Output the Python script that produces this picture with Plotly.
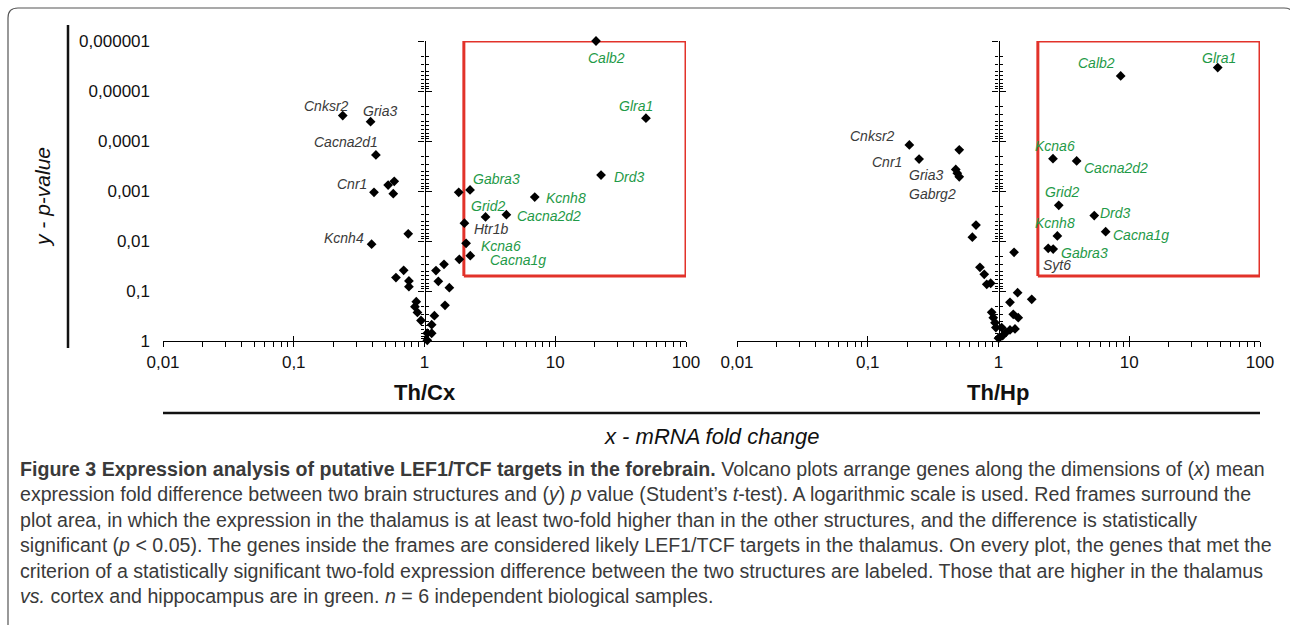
import numpy as np
import plotly.graph_objects as go

# ---------------- data: thalamus vs cortex ----------------
cx_genes = ["Cnksr2", "Gria3", "Cacna2d1", "Cnr1", "", "", "", "Kcnh4", "", "", "", "", "",
            "", "", "", "", "", "", "", "", "", "", "", "", "", "", "", "",
            "Gabra3", "Htr1b", "Kcna6", "Cacna1g", "Grid2", "Cacna2d2", "Kcnh8", "Drd3", "Glra1", "Calb2"]
cx_fold = [0.237, 0.387, 0.425, 0.411, 0.527, 0.587, 0.577, 0.394, 0.751, 0.605, 0.693, 0.760, 0.760,
           0.865, 0.845, 0.883, 0.940, 1.05, 1.05, 1.135, 1.135, 1.19, 1.435, 1.549, 1.276, 1.224, 1.41, 1.846, 1.827,
           2.23, 2.02, 2.08, 2.24, 2.93, 4.23, 6.97, 22.4, 49.4, 20.5]
cx_p = [3.1e-5, 4.1e-5, 1.9e-4, 1.06e-3, 7.6e-4, 6.4e-4, 1.13e-3, 0.0116, 0.0072, 0.054, 0.0386, 0.063, 0.082,
        0.164, 0.206, 0.269, 0.389, 0.97, 0.70, 0.70, 0.472, 0.312, 0.193, 0.086, 0.064, 0.039, 0.0292, 0.0232, 1.06e-3,
        9.5e-4, 4.4e-3, 0.0111, 0.0197, 3.3e-3, 2.98e-3, 1.32e-3, 4.8e-4, 3.5e-5, 1.0e-6]
cx_green = ["Gabra3", "Kcna6", "Cacna1g", "Grid2", "Cacna2d2", "Kcnh8", "Drd3", "Glra1", "Calb2"]

# ---------------- data: thalamus vs hippocampus ----------------
hp_genes = ["Cnksr2", "Cnr1", "", "Gria3", "", "Gabrg2", "", "", "", "", "", "", "", "", "", "", "",
            "", "", "", "", "", "", "", "", "", "", "", "",
            "Kcna6", "Cacna2d2", "Calb2", "Glra1", "Grid2", "Drd3", "Kcnh8", "Cacna1g", "Gabra3", "Syt6"]
hp_fold = [0.208, 0.247, 0.501, 0.471, 0.484, 0.501, 0.673, 0.631, 0.721, 0.778, 0.813, 0.871, 0.887, 0.912, 0.94,
           0.955, 1.057, 1.014, 1.077, 1.141, 1.224, 1.337, 1.0, 1.315, 1.224, 1.297, 1.40, 1.795, 1.416,
           2.61, 3.96, 8.6, 47.5, 2.89, 5.4, 2.82, 6.6, 2.62, 2.40]
hp_p = [1.2e-4, 2.3e-4, 1.5e-4, 3.7e-4, 4.4e-4, 5.2e-4, 4.8e-3, 8.4e-3, 0.0336, 0.0464, 0.0734, 0.070, 0.267, 0.342,
        0.43, 0.54, 0.54, 0.86, 0.78, 0.67, 0.60, 0.575, 0.88, 0.0168, 0.168, 0.292, 0.108, 0.147, 0.342,
        2.26e-4, 2.5e-4, 5.0e-6, 3.4e-6, 1.93e-3, 3.1e-3, 7.9e-3, 6.5e-3, 0.0145, 0.014]
hp_green = ["Kcna6", "Cacna2d2", "Calb2", "Glra1", "Grid2", "Drd3", "Kcnh8", "Cacna1g", "Gabra3"]

y_tick_values = [1e-6, 1e-5, 1e-4, 1e-3, 1e-2, 1e-1, 1]
y_tick_text = ["0,000001", "0,00001", "0,0001", "0,001", "0,01", "0,1", "1"]

# significance frame: at least two-fold higher in thalamus, p < 0.05
FOLD_CUTOFF = 2
P_CUTOFF = 0.05
FOLD_MAX = 100
P_MIN = 1e-6

caption_lines = [
    "<b>Figure 3 Expression analysis of putative LEF1/TCF targets in the forebrain.</b> Volcano plots arrange genes along the dimensions of (<i>x</i>) mean",
    "expression fold difference between two brain structures and (<i>y</i>) <i>p</i> value (Student\u2019s <i>t</i>-test). A logarithmic scale is used. Red frames surround the",
    "plot area, in which the expression in the thalamus is at least two-fold higher than in the other structures, and the difference is statistically",
    "significant (<i>p</i> &lt; 0.05). The genes inside the frames are considered likely LEF1/TCF targets in the thalamus. On every plot, the genes that met the",
    "criterion of a statistically significant two-fold expression difference between the two structures are labeled. Those that are higher in the thalamus",
    "<i>vs.</i> cortex and hippocampus are in green. <i>n</i> = 6 independent biological samples.",
]

# label placement: (xanchor, dx px, dy px downward)
cx_label_pos = {
    "Cnksr2": ("center", -16, -10), "Gria3": ("center", 9, -11), "Cacna2d1": ("center", -30, -13),
    "Cnr1": ("right", -5, -8), "Kcnh4": ("right", -6, -6), "Calb2": ("center", 10, 17),
    "Glra1": ("center", -10, -12), "Drd3": ("left", 11, 2), "Gabra3": ("left", 1, -11),
    "Kcnh8": ("left", 9, 1), "Grid2": ("left", -17, -11), "Cacna2d2": ("left", 9, 1),
    "Htr1b": ("left", 8, 6), "Kcna6": ("left", 13, 3), "Cacna1g": ("left", 18, 4),
}
hp_label_pos = {
    "Cnksr2": ("right", -12, -9), "Cnr1": ("right", -15, 3), "Gria3": ("right", -11, 6),
    "Gabrg2": ("right", -1, 17), "Calb2": ("right", -4, -13), "Glra1": ("center", 1, -10),
    "Kcna6": ("center", 2, -13), "Cacna2d2": ("left", 5, 7), "Grid2": ("center", 3, -13),
    "Drd3": ("left", 4, -3), "Kcnh8": ("center", -2, -13), "Cacna1g": ("left", 5, 3),
    "Gabra3": ("left", 6, 4), "Syt6": ("left", -7, 17),
}

# ---------------- layout geometry ----------------
W, H = 1290, 625
FONT = "Liberation Sans, Arial, Helvetica, sans-serif"
GREEN = "#1f9a48"
DARK = "#3a3a3a"
RED = "#e2322a"


def px(x):
    return x / W


def py(y):
    return 1 - y / H


x1_dom = [px(163), px(686)]
x2_dom = [px(737), px(1260)]
y_dom = [py(341), py(41)]
y1_pos = (x1_dom[0] + x1_dom[1]) / 2
y2_pos = (x2_dom[0] + x2_dom[1]) / 2

fig = go.Figure()

# red significance frames, drawn under the markers
for xa, ya in [("x", "y"), ("x2", "y2")]:
    fig.add_trace(go.Scatter(
        x=[FOLD_CUTOFF, FOLD_MAX, FOLD_MAX, FOLD_CUTOFF, FOLD_CUTOFF],
        y=[P_CUTOFF, P_CUTOFF, P_MIN, P_MIN, P_CUTOFF],
        xaxis=xa, yaxis=ya, mode="lines", line=dict(color=RED, width=3),
        cliponaxis=False, showlegend=False, hoverinfo="skip",
    ))

for genes, fold, p, xa, ya in [(cx_genes, cx_fold, cx_p, "x", "y"), (hp_genes, hp_fold, hp_p, "x2", "y2")]:
    fig.add_trace(go.Scatter(
        x=fold, y=p, xaxis=xa, yaxis=ya, mode="markers",
        marker=dict(symbol="diamond", size=7.5, color="black", line=dict(width=0)),
        cliponaxis=False, showlegend=False, hoverinfo="text", text=genes,
    ))

# empty traces so the overlaid tick / label axes get rendered
for xa, ya in [("x3", "y3"), ("x4", "y4"), ("x", "y5")]:
    fig.add_trace(go.Scatter(x=[], y=[], xaxis=xa, yaxis=ya, mode="markers",
                             showlegend=False, hoverinfo="skip"))

annotations = []
for genes, fold, p, green, pos, xa, ya in [
    (cx_genes, cx_fold, cx_p, cx_green, cx_label_pos, "x", "y"),
    (hp_genes, hp_fold, hp_p, hp_green, hp_label_pos, "x2", "y2"),
]:
    for g, f, pv in zip(genes, fold, p):
        if not g:
            continue
        anchor, dx, dy = pos[g]
        annotations.append(dict(
            x=np.log10(f), y=np.log10(pv), xref=xa, yref=ya, text=f"<i>{g}</i>",
            showarrow=False, xanchor=anchor, yanchor="middle", xshift=dx, yshift=-dy,
            font=dict(family=FONT, size=14, color=GREEN if g in green else DARK),
        ))

# panel titles and shared axis titles
for txt, xc in [("<b>Th/Cx</b>", y1_pos), ("<b>Th/Hp</b>", y2_pos)]:
    annotations.append(dict(x=xc, y=py(392), xref="paper", yref="paper", text=txt, showarrow=False,
                            xanchor="center", yanchor="middle", font=dict(family=FONT, size=22, color="#111")))
annotations.append(dict(x=px(711), y=py(436), xref="paper", yref="paper", text="<i>x - mRNA fold change</i>",
                        showarrow=False, xanchor="center", yanchor="middle",
                        font=dict(family=FONT, size=22, color="#111")))
annotations.append(dict(x=px(43), y=py(197), xref="paper", yref="paper", text="<i>y - p-value</i>",
                        showarrow=False, xanchor="center", yanchor="middle", textangle=-90,
                        font=dict(family=FONT, size=21, color="#111")))

caption_y = [469, 494, 520, 545, 571, 596]
for line, yc in zip(caption_lines, caption_y):
    annotations.append(dict(x=px(18), y=py(yc), xref="paper", yref="paper", text=line, showarrow=False,
                            xanchor="left", yanchor="middle",
                            font=dict(family=FONT, size=19.6, color="#3a3a3a")))

shapes = []
# axis-title rules
shapes.append(dict(type="line", xref="paper", yref="paper", x0=px(68), x1=px(68), y0=py(25), y1=py(348),
                   line=dict(color="#111", width=2.5)))
shapes.append(dict(type="line", xref="paper", yref="paper", x0=px(163), x1=px(1260), y0=py(413), y1=py(413),
                   line=dict(color="#111", width=2.5)))
# outer frame
r = 10
path = (f"M {px(8)},{py(640)} L {px(8)},{py(8 + r)} Q {px(8)},{py(8)} {px(8 + r)},{py(8)} "
        f"L {px(1294 - r)},{py(8)} Q {px(1294)},{py(8)} {px(1294)},{py(8 + r)} L {px(1294)},{py(640)}")
shapes.append(dict(type="path", xref="paper", yref="paper", path=path, line=dict(color="#555", width=1.2)))

tickfont = dict(family=FONT, size=17, color="#111")


def x_axis(dom, anchor):
    return dict(domain=dom, type="log", range=[-2, 2], anchor=anchor, showline=True, linecolor="black",
                linewidth=1.3, ticks="outside", ticklen=5, tickwidth=1.2, tickcolor="black", tick0=0, dtick=1,
                minor=dict(ticks="outside", ticklen=5, tickwidth=1, tickcolor="black", dtick="D1", showgrid=False),
                showgrid=False, zeroline=False, tickfont=tickfont)


def x_overlay(over, anchor, dom):
    return dict(overlaying=over, domain=dom, type="log", range=[-2, 2], anchor=anchor, showline=False,
                ticks="inside", ticklen=5, tickwidth=1.2, tickcolor="black", tick0=0, dtick=1,
                showticklabels=False, showgrid=False, zeroline=False)


def y_axis(pos, side_ticks, over=None, line=True):
    d = dict(domain=y_dom, type="log", range=[0, -6], anchor="free", position=pos, showline=line,
             linecolor="black", linewidth=1.3, ticks=side_ticks, ticklen=6, tickwidth=1.2, tickcolor="black",
             tick0=0, dtick=1,
             minor=dict(ticks=side_ticks, ticklen=3.5, tickwidth=1, tickcolor="black", dtick="D1", showgrid=False),
             showticklabels=False, showgrid=False, zeroline=False)
    if over:
        d["overlaying"] = over
    return d


fig.update_layout(
    width=W, height=H, margin=dict(l=0, r=0, t=0, b=0, autoexpand=False),
    paper_bgcolor="white", plot_bgcolor="rgba(0,0,0,0)",
    separators=", ", showlegend=False,
    xaxis=x_axis(x1_dom, "y"),
    xaxis2=x_axis(x2_dom, "y2"),
    xaxis3=x_overlay("x", "y", x1_dom),
    xaxis4=x_overlay("x2", "y2", x2_dom),
    yaxis=y_axis(y1_pos, "outside"),
    yaxis2=y_axis(y2_pos, "outside"),
    yaxis3=y_axis(y1_pos, "inside", over="y", line=False),
    yaxis4=y_axis(y2_pos, "inside", over="y2", line=False),
    yaxis5=dict(domain=y_dom, type="log", range=[0, -6], anchor="free", position=px(150), overlaying="y",
                showline=False, ticks="", tickmode="array", tickvals=y_tick_values, ticktext=y_tick_text,
                showgrid=False, zeroline=False, tickfont=tickfont),
    annotations=annotations, shapes=shapes,
)

fig.write_html("out.html")
